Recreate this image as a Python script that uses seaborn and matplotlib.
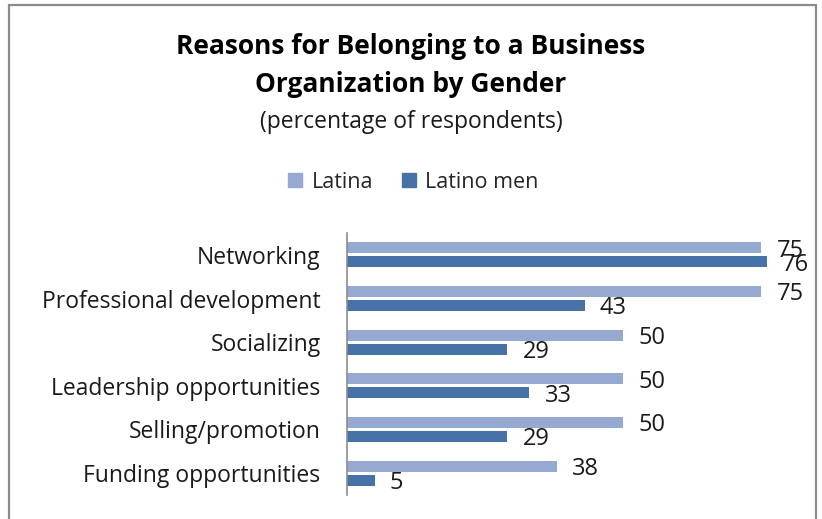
import matplotlib
matplotlib.use("Agg")
import matplotlib.pyplot as plt
import matplotlib.patches as mpatches
import seaborn as sns
import pandas as pd

# Survey data
reasons = [
    "Networking",
    "Professional development",
    "Socializing",
    "Leadership opportunities",
    "Selling/promotion",
    "Funding opportunities",
]
latina = [75, 75, 50, 50, 50, 38]
latino_men = [76, 43, 29, 33, 29, 5]
groups = ["Latina", "Latino men"]
colors = ["#95A9D1", "#4672A8"]

df = pd.DataFrame({
    "Reason": reasons * 2,
    "Percent": latina + latino_men,
    "Group": [groups[0]] * len(reasons) + [groups[1]] * len(reasons),
})

sns.set_style("white")
plt.rcParams["font.family"] = ["Open Sans", "DejaVu Sans"]

W, H = 822, 519
fig = plt.figure(figsize=(W / 100, H / 100), dpi=100)
fig.patch.set_facecolor("white")

# outer chart frame
frame = mpatches.Rectangle((9 / W, -0.05), (816 - 9) / W, 1.05 - 5 / H,
                           transform=fig.transFigure, fill=False,
                           edgecolor="#8C8C8C", linewidth=1.6)
fig.add_artist(frame)

ax = fig.add_axes([347 / W, 1 - 495 / H, 442 / W, (495 - 233) / H])
sns.barplot(data=df, y="Reason", x="Percent", hue="Group", order=reasons,
            hue_order=groups, palette=colors, orient="h", width=0.64,
            gap=0.22, linewidth=0, saturation=1, ax=ax, legend=False)

ax.set_xlim(0, 80)
ax.set_xlabel("")
ax.set_ylabel("")
ax.set_xticks([])
ax.tick_params(axis="y", length=0, pad=19, labelsize=16.5, labelcolor="#1A1A1A")
for s in ["top", "right", "bottom"]:
    ax.spines[s].set_visible(False)
ax.spines["left"].set_color("#8C8C8C")
ax.spines["left"].set_linewidth(1.2)

# value labels, nudged slightly below the bar centre
for cont in ax.containers:
    texts = ax.bar_label(cont, labels=[f"{v:g}" for v in cont.datavalues],
                         padding=11, fontsize=17, color="#1A1A1A")
    for t in texts:
        t.xyann = (t.xyann[0], t.xyann[1] - 2)

fig.text(0.5, 1 - 47 / H, "Reasons for Belonging to a Business",
         ha="center", va="center", fontsize=19, fontweight="bold", color="#000000")
fig.text(0.5, 1 - 85 / H, "Organization by Gender",
         ha="center", va="center", fontsize=19, fontweight="bold", color="#000000")
fig.text(0.5, 1 - 122 / H, "(percentage of respondents)",
         ha="center", va="center", fontsize=16.5, color="#1A1A1A")

handles = [mpatches.Patch(color=c, label=g) for c, g in zip(colors, groups)]
fig.legend(handles=handles, loc="center", bbox_to_anchor=(0.503, 1 - 182 / H),
           ncol=2, frameon=False, fontsize=15.5, handlelength=0.65,
           handleheight=0.65, handletextpad=0.45, columnspacing=1.3)

fig.savefig("out.png", dpi=100, facecolor="white")
